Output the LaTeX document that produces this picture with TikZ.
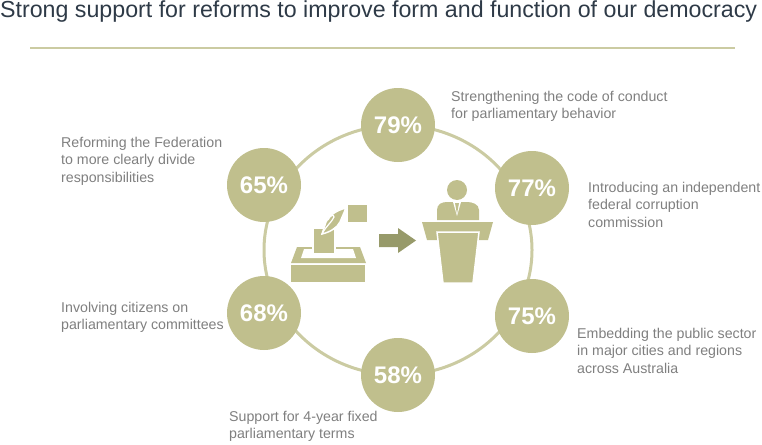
\documentclass[tikz,border=0pt]{standalone}
\usepackage{fontspec}
\setmainfont{Liberation Sans}
\definecolor{olive}{HTML}{C0BF8D}
\definecolor{ring}{HTML}{CBCBA2}
\definecolor{arr}{HTML}{979A6A}
\definecolor{ttl}{HTML}{2E3A47}
\definecolor{lbl}{HTML}{7F7F7F}
\begin{document}
\begin{tikzpicture}[x=1pt,y=-1pt,
  pct/.style={circle,fill=olive,minimum size=74pt,inner sep=0pt,text=white,font=\fontsize{24}{26}\selectfont\bfseries},
  lab/.style={text=lbl,font=\fontsize{14.2}{17.5}\selectfont,align=left,inner sep=0pt},
  wht/.style={fill=olive,draw=white,line width=1.5pt}]
\useasboundingbox (0,0) rectangle (762,444);
\node[anchor=west,text=ttl,font=\fontsize{23.2}{26}\selectfont,inner sep=0pt] (title) at (0,12) {Strong support for reforms to improve form and function of our democracy};
\coordinate (l1) at (30,48); \coordinate (l2) at (735,48);
\draw[ring,line width=1.5pt] (l1) -- (l2);
\coordinate (c) at (398,250);
\draw[ring,line width=3pt] (c) ellipse [x radius=134, y radius=125];
\node[pct] (a) at (398,125) {79\%};
\node[pct] (b) at (532,188) {77\%};
\node[pct] (d) at (532,316) {75\%};
\node[pct] (e) at (398,375) {58\%};
\node[pct] (f) at (264,313) {68\%};
\node[pct] (g) at (264,185) {65\%};
\node[lab,anchor=north west] (ta) at (451,91) {Strengthening the code of conduct\\for parliamentary behavior};
\node[lab,anchor=north west] (tb) at (588,182) {Introducing an independent\\federal corruption\\commission};
\node[lab,anchor=north west] (td) at (577,328) {Embedding the public sector\\in major cities and regions\\across Australia};
\node[lab,anchor=north west] (te) at (229,411) {Support for 4-year fixed\\parliamentary terms};
\node[lab,anchor=north west] (tf) at (61,302) {Involving citizens on\\parliamentary committees};
\node[lab,anchor=north west] (tg) at (61,137) {Reforming the Federation\\to more clearly divide\\responsibilities};
% ballot box
\fill[olive] (291,265) rectangle (365,282);
\fill[olive] (297,247) -- (360,247) -- (366,263) -- (291,263) -- cycle;
\fill[white] (304,249) -- (353,249) -- (356,258) -- (301,258) -- cycle;
\draw[wht] (313,228) rectangle (335,254);
\fill[olive] (348,205) rectangle (367,222);
\draw[wht] (322,234) -- (326,222) .. controls (330,214) and (338,210) .. (346,208) -- (340,222) .. controls (337,228) and (330,232) .. cycle;
\draw[white,line width=1.2pt] (322,234) .. controls (326,226) and (332,222) .. (334,217) .. controls (334,214) and (330,215) .. (328,220);
% arrow
\fill[arr] (379,234) -- (398,234) -- (398,228) -- (416,240.5) -- (398,253) -- (398,247) -- (379,247) -- cycle;
% podium
\fill[olive] (457,190) circle (10);
\fill[olive] (437,220) -- (437,210) .. controls (437,204) and (442,202) .. (447,202) -- (467,202) .. controls (472,202) and (479,204) .. (479,210) -- (479,220) -- cycle;
\fill[white] (453,202) -- (461,202) -- (457,216) -- cycle;
\fill[olive] (455,203) -- (459,203) -- (457,214) -- cycle;
\fill[olive] (422,222) -- (493,222) -- (488,240) -- (427,240) -- cycle;
\draw[wht] (437,232) -- (479,232) -- (473,283) -- (443,283) -- cycle;
\end{tikzpicture}
\end{document}
